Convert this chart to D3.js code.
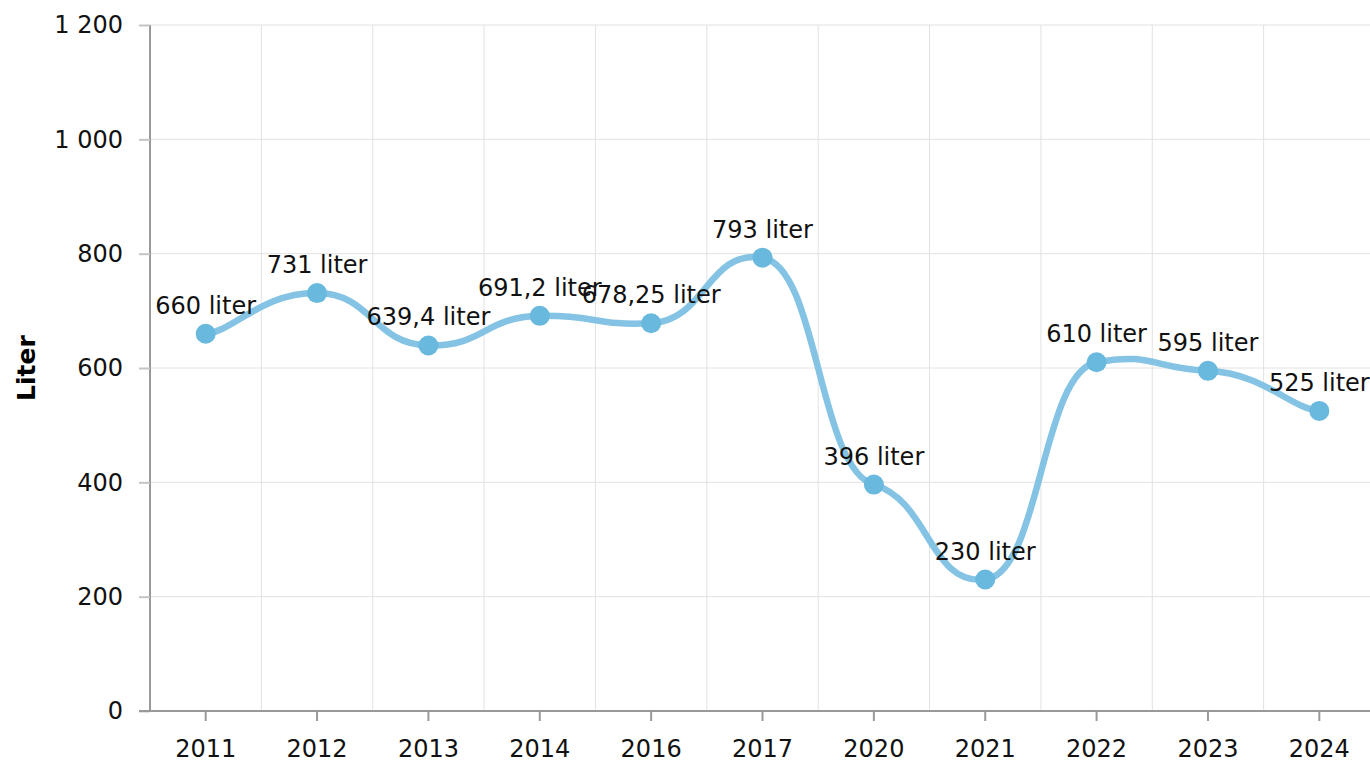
<!DOCTYPE html>
<html>
<head>
<meta charset="utf-8">
<script src="https://cdn.jsdelivr.net/npm/d3@7"></script>
<style>
    body { margin: 0; background: #fff; }
    svg { display: block; font-family: "DejaVu Sans", Verdana, sans-serif; }
    .grid line { stroke: #e2e2e2; stroke-width: 1; }
    .axis text { font-family: "DejaVu Sans", Verdana, sans-serif; font-size: 24px; fill: #111; }
</style>
</head>
<body>
<svg id="chart"></svg>
<script>
// Chart data
const years = ['2011', '2012', '2013', '2014', '2016', '2017', '2020', '2021', '2022', '2023', '2024'];
const liters = [660, 731, 639.4, 691.2, 678.25, 793, 396, 230, 610, 595, 525];
const yTicks = [0, 200, 400, 600, 800, 1000, 1200];

// Tension smoothing: separate horizontal / vertical tension
function tensionPath(pts, tensionX, tensionY) {
    const kx = 1 - tensionX, ky = 1 - tensionY;
    const path = d3.path();
    path.moveTo(pts[0][0], pts[0][1]);
    for (let i = 0; i < pts.length - 1; i++) {
        const p0 = pts[i - 1] || pts[i];
        const p1 = pts[i];
        const p2 = pts[i + 1];
        const p3 = pts[i + 2] || p2;
        const ax = p1[0] + (p2[0] - p0[0]) * kx;
        const ay = p1[1] + (p2[1] - p0[1]) * ky;
        const bx = p2[0] - (p3[0] - p1[0]) * kx;
        const by = p2[1] - (p3[1] - p1[1]) * ky;
        path.bezierCurveTo(ax, ay, bx, by, p2[0], p2[1]);
    }
    return path.toString();
}

function drawChart() {
    const W = 1370, H = 762;
    const margin = { top: 25, right: -5, bottom: 51, left: 150 };
    const width = W - margin.left - margin.right;
    const height = H - margin.top - margin.bottom;

    const svg = d3.select('#chart').attr('width', W).attr('height', H);
    const g = svg.append('g').attr('transform', `translate(${margin.left},${margin.top})`);

    const x = d3.scaleBand().domain(years).range([0, width]);
    const y = d3.scaleLinear().domain([0, 1200]).range([height, 0]);

    const fmt = v => d3.format(',')(v).replace(/,/g, ' ');
    const fmtLabel = v => String(v).replace('.', ',') + ' liter';

    // Horizontal grid
    g.append('g').attr('class', 'grid')
        .selectAll('line').data(yTicks.slice(1)).enter().append('line')
        .attr('x1', 0).attr('x2', width)
        .attr('y1', d => y(d)).attr('y2', d => y(d));

    // Vertical grid at band boundaries
    g.append('g').attr('class', 'grid')
        .selectAll('line').data(years.slice(1)).enter().append('line')
        .attr('x1', d => x(d)).attr('x2', d => x(d))
        .attr('y1', 0).attr('y2', height);

    // Y axis
    const yAxis = g.append('g').attr('class', 'axis')
        .call(d3.axisLeft(y).tickValues(yTicks).tickFormat(fmt).tickSize(11).tickPadding(16));
    yAxis.select('.domain').attr('d', `M0,0V${height}`).attr('stroke', '#999').attr('stroke-width', 2);
    yAxis.selectAll('.tick line').attr('stroke', '#c4c4c4').attr('stroke-width', 2);

    // X axis
    const xAxis = g.append('g').attr('class', 'axis')
        .attr('transform', `translate(0,${height})`)
        .call(d3.axisBottom(x).tickSize(10).tickPadding(19));
    xAxis.select('.domain').attr('d', `M-11,0H${width}`).attr('stroke', '#999').attr('stroke-width', 2);
    xAxis.selectAll('.tick line').attr('stroke', '#999').attr('stroke-width', 2);

    // Y axis title
    svg.append('text')
        .attr('transform', `translate(35,${margin.top + height / 2}) rotate(-90)`)
        .attr('text-anchor', 'middle')
        .style('font-size', '25px')
        .style('font-weight', 'bold')
        .text('Liter');

    const cx = d => x(d) + x.bandwidth() / 2;
    const pts = years.map((yr, i) => [cx(yr), y(liters[i])]);

    // Smoothed line
    g.append('path')
        .attr('d', tensionPath(pts, 0.75, 0.95))
        .attr('fill', 'none')
        .attr('stroke', '#84c3e3')
        .attr('stroke-width', 6.5)
        .attr('stroke-linecap', 'round');

    // Markers
    g.selectAll('.dot').data(pts).enter().append('circle')
        .attr('class', 'dot')
        .attr('cx', d => d[0]).attr('cy', d => d[1])
        .attr('r', 10)
        .attr('fill', '#69b8dd');

    // Data labels (the reference lets 2014/2016 overlap)
    g.selectAll('.lbl').data(liters).enter().append('text')
        .attr('class', 'lbl')
        .attr('x', (d, i) => pts[i][0])
        .attr('y', (d, i) => pts[i][1] - 20)
        .attr('text-anchor', 'middle')
        .style('font-size', '24px')
        .style('fill', '#111')
        .text(fmtLabel);
}

drawChart();
</script>
</body>
</html>
